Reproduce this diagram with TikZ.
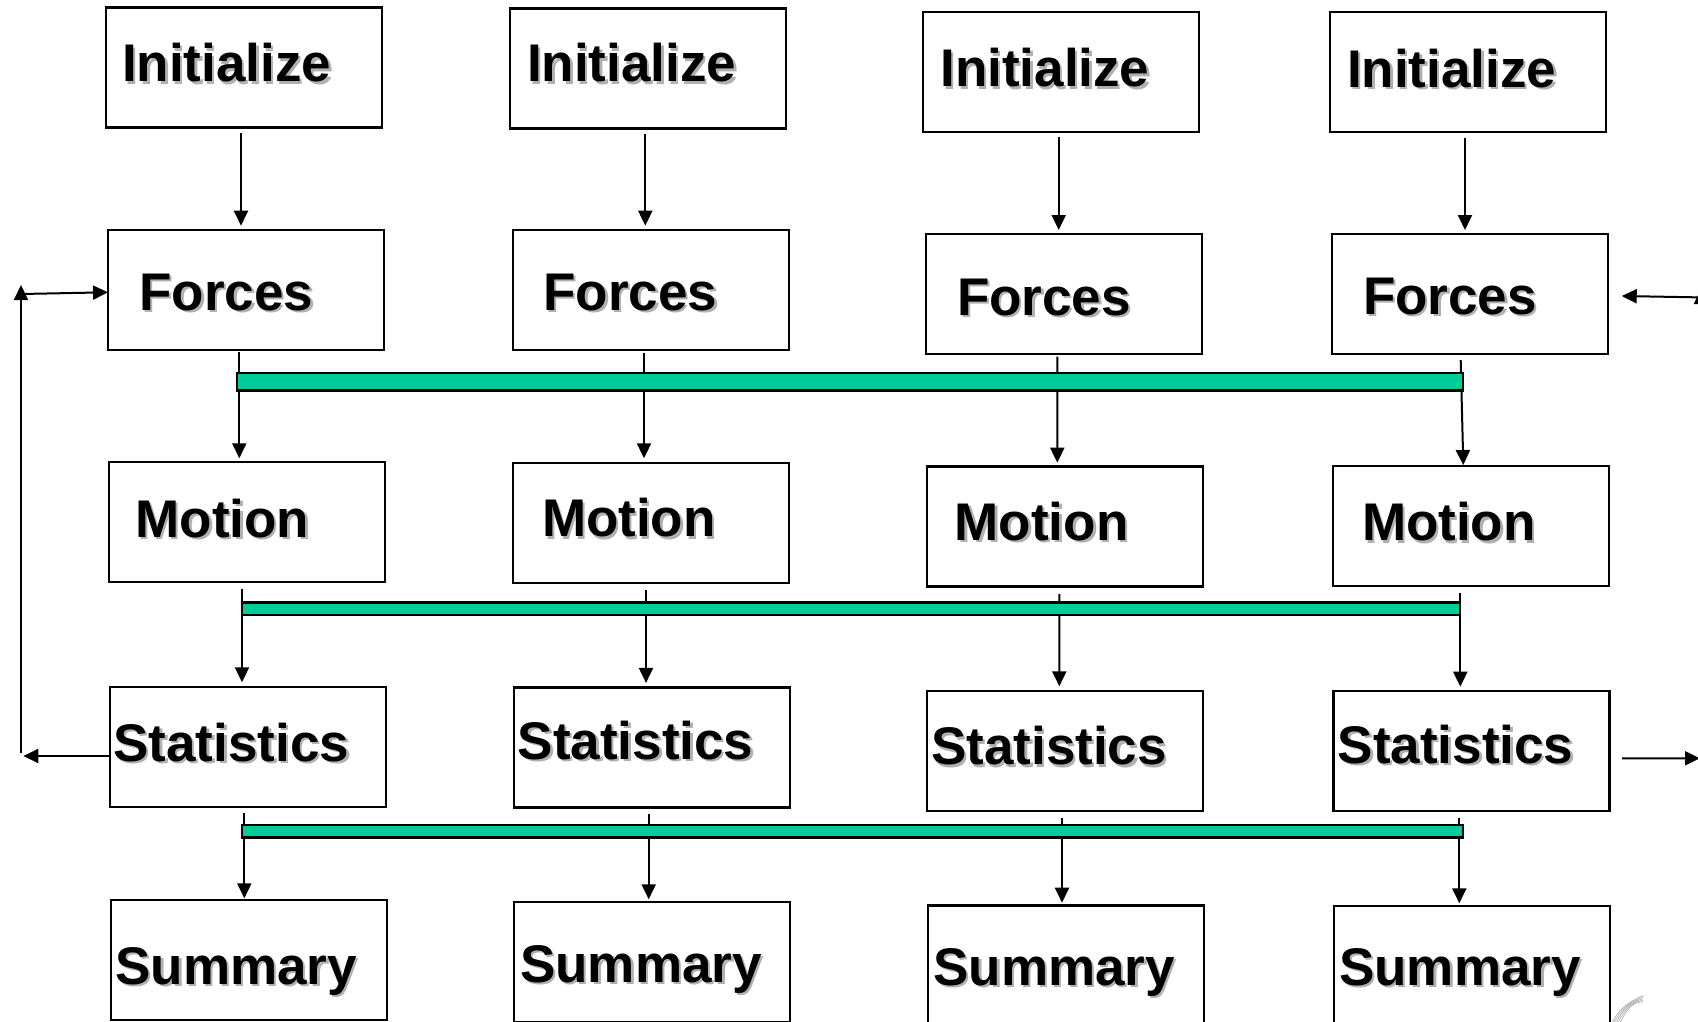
\documentclass[tikz,border=0pt]{standalone}
\usepackage{fontspec}
\setmainfont{Liberation Sans}
\usetikzlibrary{arrows.meta}
\definecolor{barteal}{RGB}{0,204,153}
\definecolor{shade}{RGB}{176,176,176}
% bold label with a soft grey drop shadow
\newcommand\shadowtext[1]{\rlap{\kern2.4pt\raisebox{-2.4pt}{\color{shade}#1}}#1}
% vertical link between two stacked boxes, with small offsets from the anchors
\newcommand\vlink[6]{\draw[arr] ([shift={(#3,#4)}]#1.south) -- ([shift={(#5,#6)}]#2.north);}
\begin{document}
\begin{tikzpicture}[x=1pt,y=-1pt,
  stage/.style={draw=black, line width=2.2pt, fill=white, minimum width=276pt,
    minimum height=120pt, inner sep=0pt, outer sep=0pt},
  lbl/.style={anchor=base west, inner sep=0pt, outer sep=0pt,
    font=\fontsize{53}{60}\selectfont\bfseries},
  arr/.style={line width=2pt, -{Triangle[length=15pt,width=14pt]}},
  syncbar/.style={draw=black, line width=2.2pt, fill=barteal},
  swoosh/.style={draw=black!35, line width=0.6pt}]
\useasboundingbox (0,0) rectangle (1698,1021);
\clip (0,0) rectangle (1698,1021);

% ---- boxes, column 1 ----
\node[stage] (i1) at (243.85,67.5) {};
\node[stage] (f1) at (246,289.85) {};
\node[stage] (m1) at (246.85,522.15) {};
\node[stage] (s1) at (247.7,746.65) {};
\node[stage] (u1) at (248.7,959.85) {};
% ---- column 2 ----
\node[stage] (i2) at (648,68.5) {};
\node[stage] (f2) at (650.7,290.35) {};
\node[stage] (m2) at (651,522.75) {};
\node[stage] (s2) at (651.65,747.4) {};
\node[stage] (u2) at (652.15,961.7) {};
% ---- column 3 ----
\node[stage] (i3) at (1061,72) {};
\node[stage] (f3) at (1064,294.3) {};
\node[stage] (m3) at (1064.65,526.5) {};
\node[stage] (s3) at (1065.3,751.25) {};
\node[stage] (u3) at (1066,965.5) {};
% ---- column 4 ----
\node[stage] (i4) at (1468,72.35) {};
\node[stage] (f4) at (1470,294) {};
\node[stage] (m4) at (1470.8,526.35) {};
\node[stage] (s4) at (1471.5,751.15) {};
\node[stage] (u4) at (1472.35,965.7) {};

% ---- labels ----
\node[lbl] (i1t) at (122,81.7) {\shadowtext{Initialize}};
\node[lbl] (f1t) at (139.5,310) {\shadowtext{Forces}};
\node[lbl] (m1t) at (135.5,537) {\shadowtext{Motion}};
\node[lbl] (s1t) at (113.5,761) {\shadowtext{Statistics}};
\node[lbl] (u1t) at (115.5,984.3) {\shadowtext{Summary}};

\node[lbl] (i2t) at (527,81.7) {\shadowtext{Initialize}};
\node[lbl] (f2t) at (543.5,310) {\shadowtext{Forces}};
\node[lbl] (m2t) at (542,536.9) {\shadowtext{Motion}};
\node[lbl] (s2t) at (517.8,759.5) {\shadowtext{Statistics}};
\node[lbl] (u2t) at (520.2,982) {\shadowtext{Summary}};

\node[lbl] (i3t) at (940.3,86.7) {\shadowtext{Initialize}};
\node[lbl] (f3t) at (957,315) {\shadowtext{Forces}};
\node[lbl] (m3t) at (954.7,540.4) {\shadowtext{Motion}};
\node[lbl] (s3t) at (931.2,764.7) {\shadowtext{Statistics}};
\node[lbl] (u3t) at (933.5,985.5) {\shadowtext{Summary}};

\node[lbl] (i4t) at (1347,87.3) {\shadowtext{Initialize}};
\node[lbl] (f4t) at (1363,314.3) {\shadowtext{Forces}};
\node[lbl] (m4t) at (1362,540.7) {\shadowtext{Motion}};
\node[lbl] (s4t) at (1337.8,763.3) {\shadowtext{Statistics}};
\node[lbl] (u4t) at (1339.2,985) {\shadowtext{Summary}};

% ---- vertical flow arrows ----
\vlink{i1}{f1}{-2.85}{5.5}{-5}{-4.15}
\vlink{f1}{m1}{-6.7}{2.15}{-7.55}{-3.85}
\vlink{m1}{s1}{-4.85}{7.15}{-5.7}{-4.35}
\vlink{s1}{u1}{-3.4}{6.65}{-4.4}{-1.55}

\vlink{i2}{f2}{-2.7}{5.5}{-5.4}{-4.65}
\vlink{f2}{m2}{-6.7}{2.95}{-7}{-4.45}
\vlink{m2}{s2}{-5}{7.65}{-5.65}{-4.5}
\vlink{s2}{u2}{-2.95}{6.6}{-3.45}{-2.4}

\vlink{i3}{f3}{-2.3}{5.3}{-5.3}{-4.3}
\vlink{f3}{m3}{-6.7}{2.4}{-7.35}{-3.8}
\vlink{m3}{s3}{-5.35}{7.4}{-6}{-4.95}
\vlink{s3}{u3}{-3.3}{6.95}{-4}{-2.8}

\vlink{i4}{f4}{-3}{5.65}{-5}{-4}
\vlink{f4}{m4}{-9.3}{6}{-7.5}{-1.35}
\vlink{m4}{s4}{-10.5}{7}{-11.2}{-4.45}
\vlink{s4}{u4}{-12.2}{7.15}{-13.05}{-2.4}

% ---- synchronisation bars ----
\draw[syncbar] (236.7,373.3) rectangle (1462.7,390.5);
\draw[syncbar] (241.7,602.5) rectangle (1460,614.6);
\draw[syncbar] (241.7,825.3) rectangle (1462.7,837.5);

% ---- loop-back arrows, left side ----
\coordinate (lb1) at (23.3,756);
\coordinate (lb2) at (21,753.3);
\coordinate (lb3) at (21,285);
\coordinate (lb4) at (21,294);
\draw[arr] ([shift={(0,9.35)}]s1.west) -- (lb1);
\draw[arr] (lb2) -- (lb3);
\draw[arr] (lb4) -- ([shift={(0,2.45)}]f1.west);

% ---- loop-back arrows, right side ----
\coordinate (rb1) at (1712,297.6);
\coordinate (rb2) at (1701,753);
\coordinate (rb3) at (1701,289);
\coordinate (rb4) at (1700,758.3);
\draw[arr] (rb1) -- ([shift={(13.7,2)}]f4.east);
\draw[arr] (rb2) -- (rb3);
\draw[arr] ([shift={(12.7,7.15)}]s4.east) -- (rb4);

% ---- corner ornament ----
\foreach \k in {0,...,4} {
  \draw[swoosh] (1612+2*\k,1023) .. controls (1618+2*\k,1010) and (1628+\k,1002) .. (1643,995.5+1.6*\k);
}
\end{tikzpicture}
\end{document}
